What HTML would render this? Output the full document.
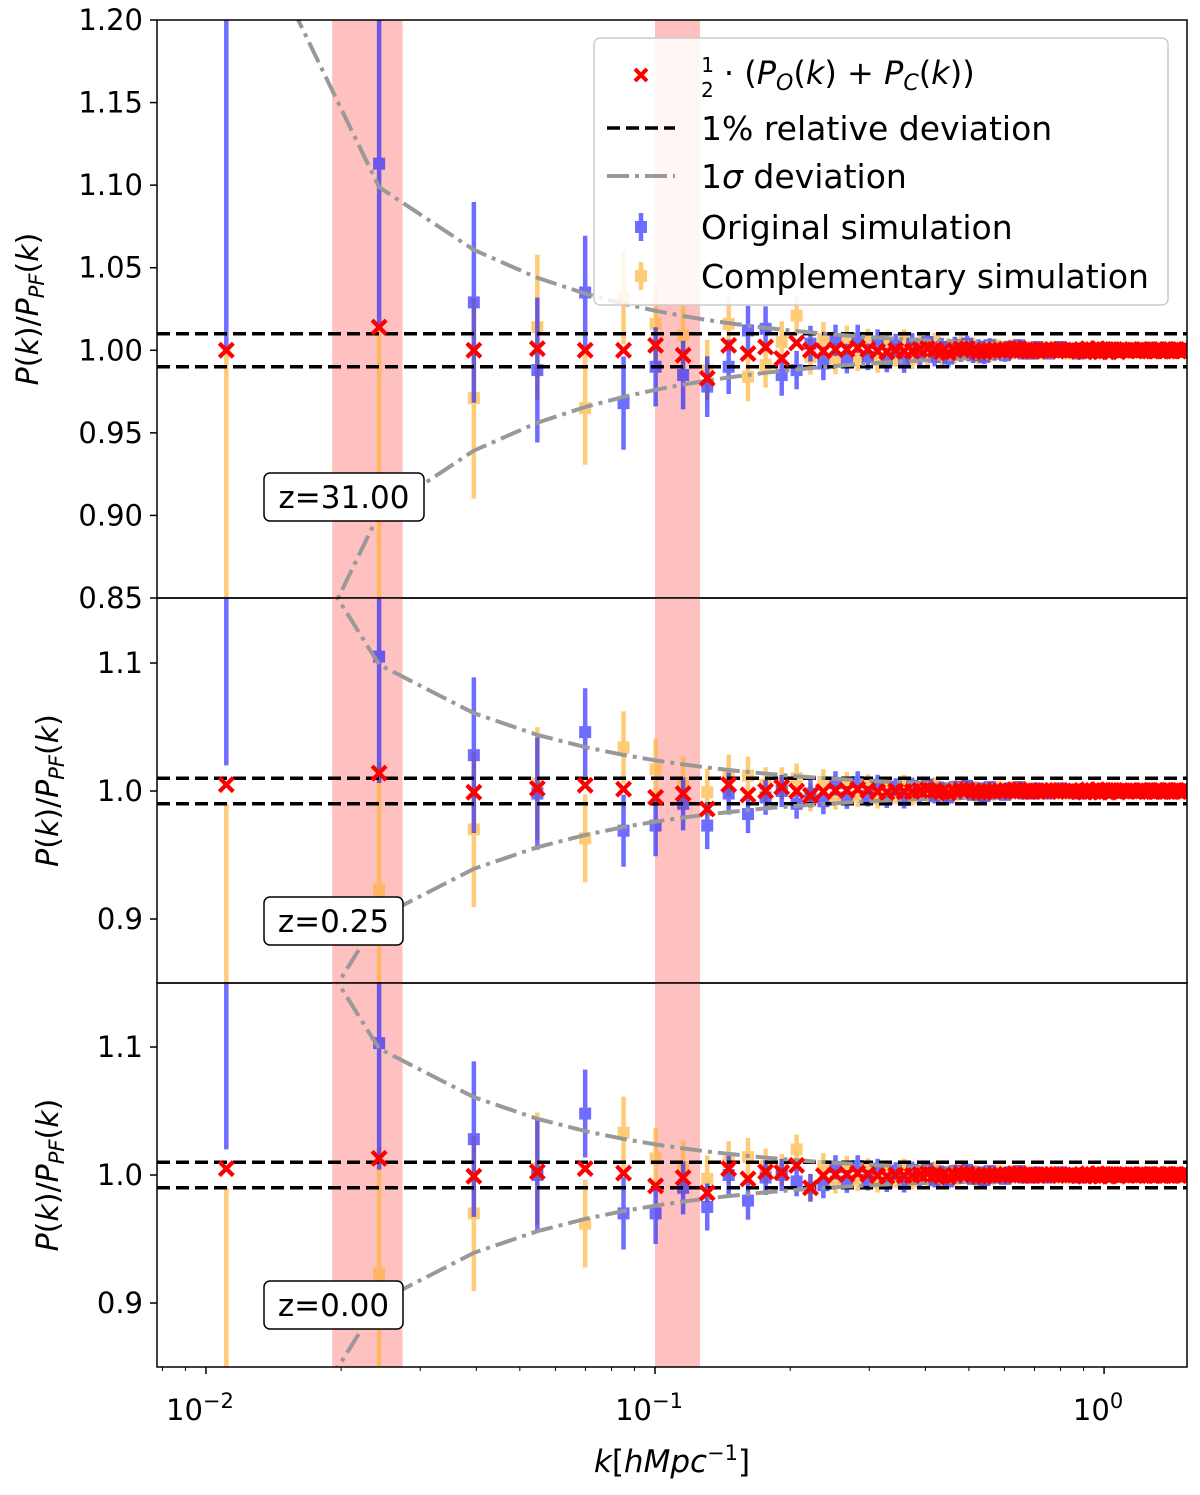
<!DOCTYPE html>
<html><head><meta charset="utf-8"><style>
html,body{margin:0;padding:0;background:#fff;overflow:hidden}
svg{display:block;font-family:"DejaVu Sans","Liberation Sans",sans-serif}
</style></head><body>
<svg id="chart" width="1200" height="1495" viewBox="0 0 1200 1495"></svg>
<script>
// ---- data ----
const kFirst = 0.0111, kStart = 0.0243, kStep = 0.0152, nK = 100;
const sigA = 0.0024; // 1-sigma amplitude (sigma = sigA / k) for k > kFirst
const sigFirst = 0.29; // 1-sigma at the first k bin
const p1Blue = [1.29,1.113,1.029,0.988,1.035,0.968,0.99,0.985,0.978,0.99,1.012,1.013,0.985,0.988,1.004];
const p1Orange = [0.71,0.915,0.971,1.014,0.965,1.032,1.016,1.009,0.988,1.016,0.984,0.991,1.005,1.021,0.996];
const p2Blue = [1.31,1.105,1.028,0.998,1.046,0.969,0.973,0.99,0.973,0.998,0.982,0.995,1.0,0.99,0.998];
const p2Orange = [0.70,0.923,0.97,1.006,0.963,1.034,1.017,1.006,0.999,1.012,1.012,1.005,1.006,1.01,0.995];
const p3Blue = [1.31,1.103,1.028,1.0,1.048,0.97,0.97,0.99,0.975,1.0,0.98,0.998,1.0,0.995,0.99];
const p3Orange = [0.70,0.923,0.97,1.005,0.962,1.033,1.013,1.006,0.997,1.01,1.014,1.007,1.004,1.02,0.99];
// tail deviations in units of 0.001
const tailBlue = [-8,6,-5,7,-4,5,-6,3,-7,4,-3,5,-4,2,-5,3,-2,4,-3,2,-4,3,-2,1,-3,2,-1,3,-2,1,-2,2,-1,1,-2,1,-1,2,-1,1,-1,1,-2,1,-1,1,0,-1,1,-1,1,0,-1,1,0,-1,1,-1,0,1,-1,0,1,-1,0,1,0,-1,1,0,-1,0,1,0,-1,0,1,0,-1,0,1,0,0,-1,0,1,0,-1,0,1,0];
const tailOrange = [7,-5,6,-4,5,-6,4,-3,6,-5,4,-3,5,-4,2,-3,4,-2,3,-4,2,-3,3,-1,2,-2,3,-1,2,-2,1,-2,2,-1,1,-1,2,-1,1,-2,1,-1,1,0,-1,1,-1,0,1,-1,0,1,-1,0,1,-1,0,1,0,-1,1,0,-1,0,1,0,-1,1,0,-1,0,1,0,-1,0,1,0,-1,0,1,0,-1,0,1,0,0,1,0,-1,0,0];
const bandRanges = [[0.0191,0.0274],[0.1,0.126]];
const xTickLabels = ["10","10","10"], xTickExp = ["−2","−1","0"], xTickVals=[0.01,0.1,1];
const p1Ticks = [1.20,1.15,1.10,1.05,1.00,0.95,0.90,0.85];
const p23Ticks = [1.1,1.0,0.9];
const zLabels = ["z=31.00","z=0.25","z=0.00"];

// ---- layout ----
const NS="http://www.w3.org/2000/svg";
const svg=document.getElementById('chart');
const X0=157,X1=1187, LMIN=Math.log10(0.00778), LMAX=Math.log10(1.53);
function xs(k){return X0+(Math.log10(k)-LMIN)/(LMAX-LMIN)*(X1-X0);}
function mk(tag,attrs,parent){const e=document.createElementNS(NS,tag);for(const a in attrs)e.setAttribute(a,attrs[a]);(parent||svg).appendChild(e);return e;}
const kArr=[kFirst];for(let i=1;i<nK;i++)kArr.push(kStart+kStep*(i-1));
function sig(i){return i===0?sigFirst:sigA/kArr[i];}

const panels=[
 {top:20,bot:598,ymin:0.85,ymax:1.20,blue:p1Blue,orange:p1Orange,ticks:p1Ticks,fmt:2,z:zLabels[0],zw:160,zy:497},
 {top:598,bot:983,ymin:0.85,ymax:1.1508,blue:p2Blue,orange:p2Orange,ticks:p23Ticks,fmt:1,z:zLabels[1],zw:139,zy:921},
 {top:983,bot:1367,ymin:0.85,ymax:1.15,blue:p3Blue,orange:p3Orange,ticks:p23Ticks,fmt:1,z:zLabels[2],zw:139,zy:1305}
];
const defs=mk('defs',{});
panels.forEach((p,pi)=>{
  const ys=v=>p.bot-(v-p.ymin)/(p.ymax-p.ymin)*(p.bot-p.top);
  const cp=mk('clipPath',{id:'c'+pi},defs);mk('rect',{x:X0,y:p.top,width:X1-X0,height:p.bot-p.top},cp);
  const g=mk('g',{'clip-path':'url(#c'+pi+')'});
  
  
  bandRanges.forEach((b,bi)=>{const r=mk('rect',{x:xs(b[0]),y:p.top,width:xs(b[1])-xs(b[0]),height:p.bot-p.top,fill:'#ffc0c0'},g);
    
    });
  const blue=[],orange=[];
  for(let i=0;i<nK;i++){
    if(i<p.blue.length){blue.push(p.blue[i]);orange.push(p.orange[i]);}
    else{blue.push(1+tailBlue[i-p.blue.length]*0.001);orange.push(1+tailOrange[i-p.blue.length]*0.001);}
  }
  [[orange,'#ffb030','orange'],[blue,'#2020ff','blue']].forEach(([arr,col,nm])=>{
    const sg=mk('g',{opacity:0.65},g);
    
    
    arr.forEach((v,i)=>{const s=sig(i),x=xs(kArr[i]);
      mk('line',{x1:x,x2:x,y1:ys(v-s),y2:ys(v+s),stroke:col,'stroke-width':4.5},sg);
      mk('rect',{x:x-6,y:ys(v)-6,width:12,height:12,fill:col},sg);});
  });
  [1.01,0.99].forEach(v=>{const l=mk('line',{x1:X0,x2:X1,y1:ys(v),y2:ys(v),stroke:'#000','stroke-width':3.5,'stroke-dasharray':'13,6'},g);
    
    });
  [1,-1].forEach(sgn=>{const pts=kArr.map((k,i)=>xs(k).toFixed(1)+','+ys(1+sgn*sig(i)).toFixed(1)).join(' ');
    const pl=mk('polyline',{points:pts,fill:'none',stroke:'#999','stroke-width':4,'stroke-dasharray':'22,6,4,6'},g);
    
    });
  const rg=mk('g',{stroke:'#ff0000','stroke-width':4.2},g);
  
  
  blue.forEach((v,i)=>{const m=(v+orange[i])/2,x=xs(kArr[i]),y=ys(m);
    mk('path',{d:`M${x-7},${y-7}L${x+7},${y+7}M${x-7},${y+7}L${x+7},${y-7}`},rg);});
  const fr=mk('rect',{x:X0,y:p.top,width:X1-X0,height:p.bot-p.top,fill:'none',stroke:'#000','stroke-width':1.5});
  
  
  p.ticks.forEach(v=>{const y=ys(v);mk('line',{x1:X0-7,x2:X0,y1:y,y2:y,stroke:'#000','stroke-width':1.5});
    const t=mk('text',{x:X0-14,y:y+10,'text-anchor':'end','font-size':29});t.textContent=v.toFixed(p.fmt);
    
    });
  const cy=(p.top+p.bot)/2;
  const yl=mk('text',{x:0,y:0,transform:`translate(${pi==0?38:58},${cy}) rotate(-90)`,'text-anchor':'middle','font-size':30});
  yl.innerHTML='<tspan font-style="italic">P</tspan>(<tspan font-style="italic">k</tspan>)/<tspan font-style="italic">P</tspan><tspan font-style="italic" font-size="21" dy="6">PF</tspan><tspan dy="-6">(</tspan><tspan font-style="italic">k</tspan>)';
  
  
  const zg=mk('g',{});
  mk('rect',{x:264,y:p.zy-24,width:p.zw,height:48,rx:6,fill:'#fff',stroke:'#000','stroke-width':1.5},zg);
  const zt=mk('text',{x:264+p.zw/2,y:p.zy+11,'text-anchor':'middle','font-size':31},zg);zt.textContent=p.z;
});
const B=1367;
for(let d=-3;d<=0;d++)for(let m=1;m<10;m++){const k=m*Math.pow(10,d);if(k<0.00778||k>1.53)continue;
  const x=xs(k);mk('line',{x1:x,x2:x,y1:B,y2:B+(m==1?7:4),stroke:'#000','stroke-width':m==1?1.5:1});}
xTickVals.forEach((v,i)=>{const t=mk('text',{x:xs(v)-6,y:1420,'text-anchor':'middle','font-size':29});
  t.innerHTML=xTickLabels[i]+'<tspan font-size="21" dy="-12">'+xTickExp[i]+'</tspan>';
  
  });
const xl=mk('text',{x:672,y:1472,'text-anchor':'middle','font-size':31});
xl.innerHTML='<tspan font-style="italic">k</tspan>[<tspan font-style="italic">hMpc</tspan><tspan font-size="21" dy="-12">−1</tspan><tspan dy="12">]</tspan>';


const lg=mk('g',{});
mk('rect',{x:594,y:38,width:574,height:267,rx:6,fill:'#fff','fill-opacity':0.85,stroke:'#ccc','stroke-width':1.5},lg);
mk('path',{d:'M635,69L647,81M635,81L647,69',stroke:'#f00','stroke-width':4},lg);
const t1=mk('text',{x:701,y:84,'font-size':32},lg);
t1.innerHTML='<tspan font-size="20" dy="-12">1</tspan><tspan font-size="20" dx="-13" dy="25">2</tspan><tspan dy="-13"> · (</tspan><tspan font-style="italic">P</tspan><tspan font-style="italic" font-size="22" dy="6">O</tspan><tspan dy="-6">(</tspan><tspan font-style="italic">k</tspan>) + <tspan font-style="italic">P</tspan><tspan font-style="italic" font-size="22" dy="6">C</tspan><tspan dy="-6">(</tspan><tspan font-style="italic">k</tspan>))';
mk('line',{x1:607,x2:675,y1:128,y2:128,stroke:'#000','stroke-width':3.5,'stroke-dasharray':'13,6'},lg);
const t2=mk('text',{x:701,y:140,'font-size':33},lg);t2.textContent='1% relative deviation';
mk('line',{x1:607,x2:675,y1:176,y2:176,stroke:'#999','stroke-width':4,'stroke-dasharray':'22,6,4,6'},lg);
const t3=mk('text',{x:701,y:188,'font-size':33},lg);t3.innerHTML='1<tspan font-style="italic">σ</tspan> deviation';
[[227,'#2020ff','Original simulation'],[276,'#ffb030','Complementary simulation']].forEach(([y,c,s])=>{
  const gg=mk('g',{opacity:0.65},lg);mk('line',{x1:641,x2:641,y1:y-14,y2:y+14,stroke:c,'stroke-width':4.5},gg);
  mk('rect',{x:635,y:y-6,width:12,height:12,fill:c},gg);
  const t=mk('text',{x:701,y:y+12,'font-size':33},lg);t.textContent=s;});
</script>
</body></html>
